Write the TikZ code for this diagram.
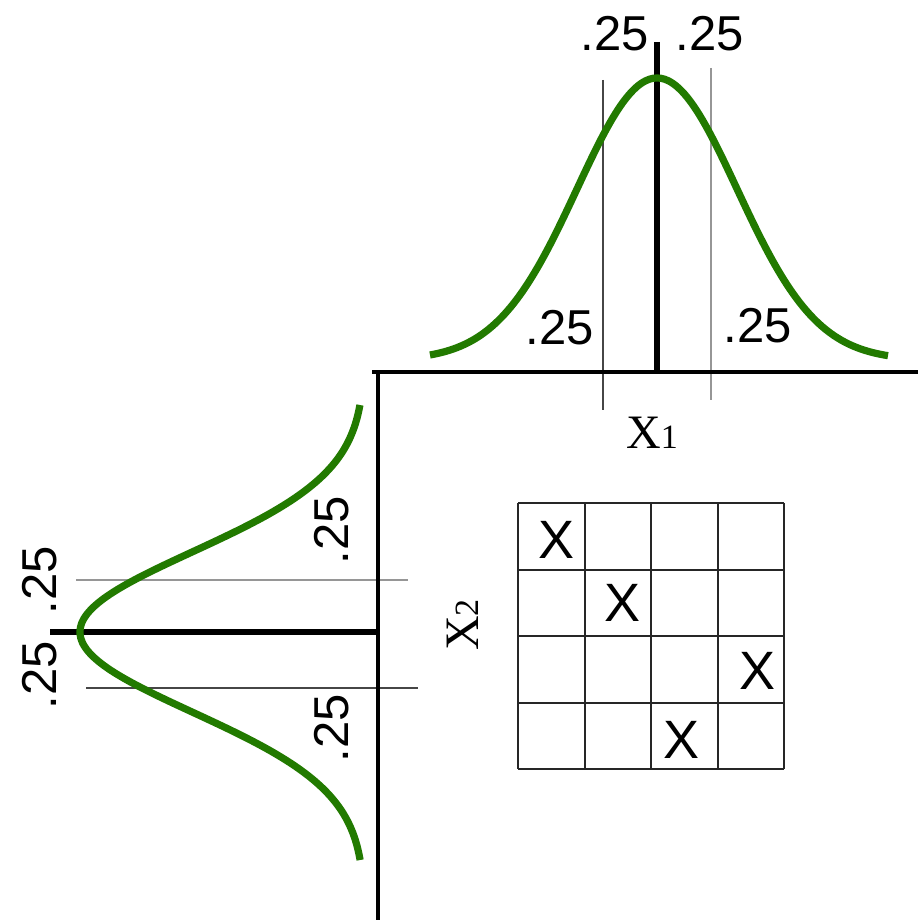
\documentclass[tikz,border=0pt]{standalone}
\usepackage{fontspec}
\setmainfont{Liberation Sans}
\newfontfamily\serifx{Liberation Serif}
\definecolor{curvegreen}{RGB}{34,122,0}
\definecolor{qdark}{RGB}{70,70,70}
\definecolor{qlight}{RGB}{150,150,150}
\tikzset{
  axisline/.style={line width=2pt, black},
  centerline/.style={line width=2.6pt, black},
  qline/.style={line width=1pt},
  bell/.style={line width=3.6pt, curvegreen, smooth},
  qlabel/.style={inner sep=0pt, font=\fontsize{24.5}{24.5}\selectfont},
  gridx/.style={inner sep=0pt, font=\fontsize{27}{27}\selectfont},
  axlabel/.style={inner sep=0pt, font=\serifx\fontsize{24}{24}\selectfont},
  gridline/.style={line width=1pt, black!85},
}
\begin{document}
\begin{tikzpicture}[x=0.5pt,y=-0.5pt]
\useasboundingbox (0,0) rectangle (920,920);
% top distribution
\draw[qline, qdark] (603,80) -- (603,410);
\draw[qline, qlight] (711,68) -- (711,400);
\draw[centerline] (657,42) -- (657,372);
\draw[bell, domain=430:888, samples=120] plot (\x, {360-282*exp(-((\x-657)/80)^2/2)});
% left distribution
\draw[qline, qlight] (76,580) -- (408,580);
\draw[qline, qdark] (86,688) -- (418,688);
\draw[centerline] (50,632) -- (378,632);
\draw[bell, domain=405:860, samples=120] plot ({365-285*exp(-((\x-632)/80)^2/2)}, \x);
% axes
\draw[axisline] (372,372) -- (918,372);
\draw[axisline] (378,372) -- (378,920);
% labels top
\node[qlabel] (tl) at (615,34) {.25};
\node[qlabel] (tr) at (710,34) {.25};
\node[qlabel] (bl) at (560,328) {.25};
\node[qlabel] (br) at (758,326) {.25};
\node[axlabel] (x1) at (652,433) {X{\fontsize{17}{17}\selectfont 1}};
% labels left
\node[qlabel, rotate=90] (lu) at (40,580) {.25};
\node[qlabel, rotate=90] (ll) at (40,675) {.25};
\node[qlabel, rotate=90] (ru) at (332,530) {.25};
\node[qlabel, rotate=90] (rl) at (332,728) {.25};
\node[axlabel, rotate=90] (x2) at (463,625) {X{\fontsize{17}{17}\selectfont 2}};
% grid
\foreach \i in {0,...,4} {
  \draw[gridline] ({518+66.5*\i},503) -- ({518+66.5*\i},769);
  \draw[gridline] (518,{503+66.5*\i}) -- (784,{503+66.5*\i});
}
\node[gridx] (g11) at (557,540) {X};
\node[gridx] (g22) at (622,603) {X};
\node[gridx] (g34) at (757,671) {X};
\node[gridx] (g43) at (681,740) {X};
\end{tikzpicture}
\end{document}
